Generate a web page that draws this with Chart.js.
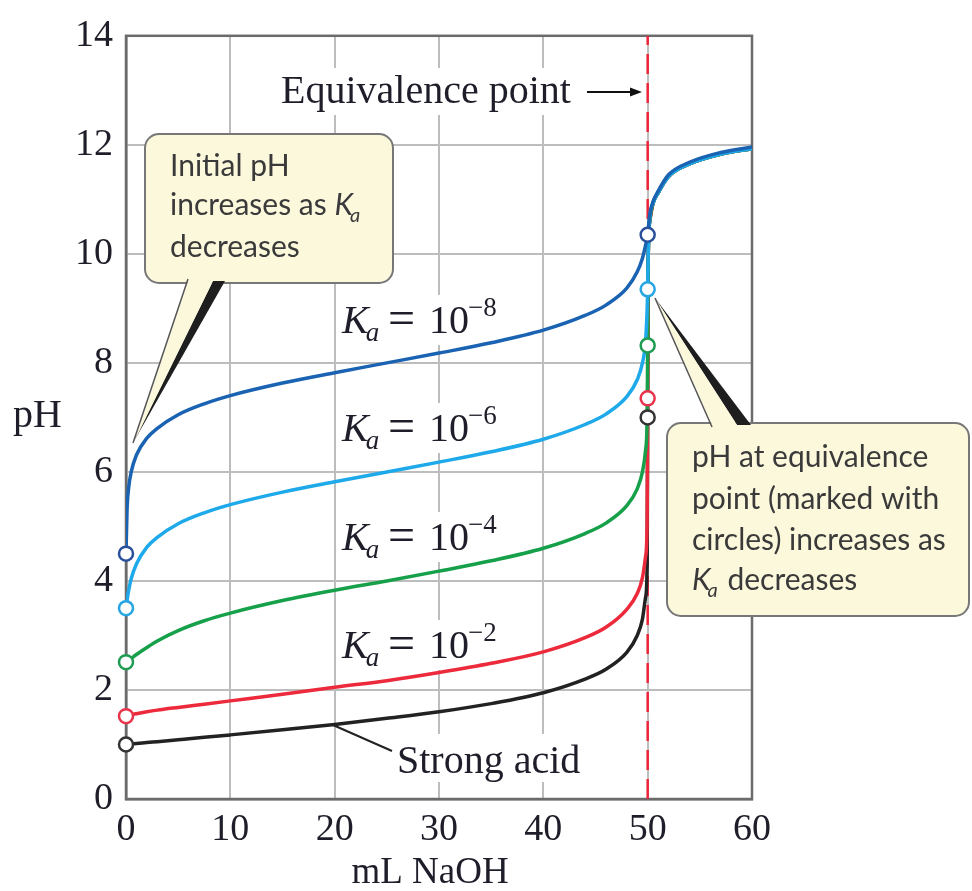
<!DOCTYPE html>
<html lang="en">
<head>
<meta charset="utf-8">
<title>Titration curves</title>
<script src="https://cdn.jsdelivr.net/npm/chart.js@4.4.1/dist/chart.umd.min.js"></script>
<style>
    html, body { margin: 0; padding: 0; background: #fff; }
    #wrap { position: relative; width: 972px; height: 891px; }
</style>
</head>
<body>
<div id="wrap"><canvas id="titration"></canvas></div>
<script>
    // mL of NaOH added
    const mlNaOH = [0, 0.1, 0.25, 0.5, 1, 2, 3, 5, 7.5, 10, 15, 20, 25, 30, 35, 40, 44, 46, 48, 49, 49.5, 49.8, 49.95, 50, 50.05, 50.2, 50.5, 51, 52, 54, 57, 60];

    // pH
    const phKa8 = [4.50, 5.30, 5.70, 6.00, 6.31, 6.62, 6.80, 7.05, 7.25, 7.40, 7.63, 7.82, 8.00, 8.18, 8.37, 8.60, 8.87, 9.06, 9.37, 9.67, 9.92, 10.16, 10.30, 10.35, 10.45, 10.72, 10.95, 11.15, 11.45, 11.68, 11.86, 11.96];
    const phKa6 = [3.50, 3.64, 3.82, 4.04, 4.31, 4.62, 4.80, 5.05, 5.25, 5.40, 5.63, 5.82, 6.00, 6.18, 6.37, 6.60, 6.87, 7.06, 7.38, 7.69, 8.00, 8.40, 8.99, 9.35, 10.00, 10.65, 10.92, 11.12, 11.42, 11.65, 11.83, 11.93];
    const phKa4 = [2.51, 2.52, 2.545, 2.58, 2.65, 2.78, 2.90, 3.09, 3.27, 3.41, 3.64, 3.83, 4.00, 4.18, 4.37, 4.60, 4.87, 5.06, 5.38, 5.69, 6.00, 6.40, 7.00, 8.32, 9.90, 10.60, 10.92, 11.12, 11.42, 11.65, 11.83, 11.93];
    const phKa2 = [1.52, 1.525, 1.532, 1.545, 1.565, 1.60, 1.63, 1.68, 1.74, 1.80, 1.92, 2.05, 2.17, 2.32, 2.49, 2.70, 2.96, 3.15, 3.48, 3.77, 4.06, 4.45, 5.08, 7.35, 9.90, 10.60, 10.92, 11.12, 11.42, 11.65, 11.83, 11.93];
    const phStrong = [1.00, 1.002, 1.004, 1.009, 1.017, 1.035, 1.052, 1.087, 1.131, 1.176, 1.269, 1.368, 1.48, 1.60, 1.75, 1.95, 2.20, 2.38, 2.69, 3.00, 3.30, 3.70, 4.30, 7.00, 9.90, 10.60, 10.92, 11.12, 11.42, 11.65, 11.83, 11.93];

    const kaExponents = [-8, -6, -4, -2];
    const equivalenceML = 50;

    const xTicks = [0, 10, 20, 30, 40, 50, 60];
    const yTicks = [0, 2, 4, 6, 8, 10, 12, 14];

    // top curve first: chart.js paints dataset 0 last
    const curves = [
        { data: phKa8, color: '#1a62b2', ring: '#2a509c' },
        { data: phKa6, color: '#1ea9ea', ring: '#28a6e4' },
        { data: phKa4, color: '#16a04a', ring: '#1f9c52' },
        { data: phKa2, color: '#ec2a3c', ring: '#e8344a' },
        { data: phStrong, color: '#222222', ring: '#333333' }
    ];

    const eqIndex = mlNaOH.indexOf(equivalenceML);
    const serif = '"Liberation Serif", "Times New Roman", serif';
    const sans = 'Lato, "Open Sans", sans-serif';
    const ink = '#1e1e2a';

    const circleSets = curves.map(c => ({
        data: [{ x: 0, y: c.data[0] }, { x: equivalenceML, y: c.data[eqIndex] }],
        showLine: false,
        pointRadius: 7,
        pointBorderWidth: 2.5,
        pointBackgroundColor: '#ffffff',
        pointBorderColor: c.ring,
        clip: false
    }));

    const lineSets = curves.map(c => ({
        data: mlNaOH.map((x, i) => ({ x: x, y: c.data[i] })),
        borderColor: c.color,
        borderWidth: 3.5,
        pointRadius: 0,
        cubicInterpolationMode: 'monotone',
        fill: false
    }));

    const eqLine = {
        data: [{ x: equivalenceML, y: 0 }, { x: equivalenceML, y: 14 }],
        borderColor: '#ee2438',
        borderWidth: 2.5,
        borderDash: [20, 9],
        pointRadius: 0
    };

    function kaText(ctx, x, base, big, small, drop) {
        ctx.font = 'italic ' + big + 'px ' + (big > 32 ? serif : sans);
        ctx.fillText('K', x, base);
        const w = ctx.measureText('K').width;
        ctx.font = 'italic ' + small + 'px ' + (big > 32 ? serif : sans);
        ctx.fillText('a', x + w - 3, base + drop);
        return x + w - 3 + ctx.measureText('a').width;
    }

    function kaLabel(ctx, x, base, exp) {
        ctx.fillStyle = '#ffffff';
        ctx.fillRect(x - 6, base - 38, 174, 50);
        ctx.fillStyle = ink;
        kaText(ctx, x, base, 40, 27, 8);
        ctx.font = '48px ' + serif;
        ctx.fillText('=', x + 46, base + 1);
        ctx.font = '40px ' + serif;
        ctx.fillText('10', x + 87, base);
        ctx.font = '27px ' + serif;
        ctx.fillText('\u2212' + Math.abs(exp), x + 126, base - 17);
    }

    function bubble(ctx, x, y, w, h, r) {
        ctx.beginPath();
        ctx.moveTo(x + r, y);
        ctx.arcTo(x + w, y, x + w, y + h, r);
        ctx.arcTo(x + w, y + h, x, y + h, r);
        ctx.arcTo(x, y + h, x, y, r);
        ctx.arcTo(x, y, x + w, y, r);
        ctx.closePath();
        ctx.fillStyle = '#fcf8dc';
        ctx.fill();
        ctx.strokeStyle = '#777777';
        ctx.lineWidth = 2;
        ctx.stroke();
    }

    function pointer(ctx, a, b, c, tip, fromY) {
        ctx.fillStyle = '#1e1e1e';
        ctx.beginPath();
        ctx.moveTo(b, fromY); ctx.lineTo(c, fromY); ctx.lineTo(tip[0], tip[1]);
        ctx.closePath(); ctx.fill();
        ctx.fillStyle = '#fcf8dc';
        ctx.beginPath();
        ctx.moveTo(a, fromY); ctx.lineTo(b, fromY); ctx.lineTo(tip[0] + 2, tip[1] + (fromY > tip[1] ? 3 : -3));
        ctx.closePath(); ctx.fill();
        ctx.strokeStyle = '#555555';
        ctx.lineWidth = 1.5;
        ctx.beginPath();
        ctx.moveTo(a, fromY + (fromY > tip[1] ? 2 : -2)); ctx.lineTo(tip[0], tip[1]);
        ctx.stroke();
    }

    const notes = {
        id: 'notes',
        beforeDatasetsDraw(chart) {
            const ctx = chart.ctx, area = chart.chartArea;
            ctx.save();
            ctx.textBaseline = 'alphabetic';
            ctx.textAlign = 'left';

            // Equivalence point label + arrow
            ctx.fillStyle = '#ffffff';
            ctx.fillRect(276, 68, 304, 47);
            ctx.fillStyle = ink;
            ctx.font = '40px ' + serif;
            ctx.fillText('Equivalence point', 281, 103);
            ctx.strokeStyle = '#111';
            ctx.lineWidth = 2;
            ctx.beginPath(); ctx.moveTo(587, 92); ctx.lineTo(634, 92); ctx.stroke();
            ctx.fillStyle = '#111';
            ctx.beginPath(); ctx.moveTo(642, 92); ctx.lineTo(630, 87.5); ctx.lineTo(630, 96.5); ctx.closePath(); ctx.fill();

            // Ka labels
            const bases = [333, 441, 550, 658];
            kaExponents.forEach((e, i) => kaLabel(ctx, 342, bases[i], e));

            // Strong acid
            ctx.fillStyle = '#ffffff';
            ctx.fillRect(392, 734, 194, 48);
            ctx.fillStyle = ink;
            ctx.font = '40px ' + serif;
            ctx.fillText('Strong acid', 397, 773);
            ctx.strokeStyle = '#222';
            ctx.lineWidth = 2;
            ctx.beginPath(); ctx.moveTo(333, 725); ctx.lineTo(392, 751); ctx.stroke();

            // frame
            ctx.strokeStyle = '#6b6b6b';
            ctx.lineWidth = 2.5;
            ctx.strokeRect(area.left, area.top, area.right - area.left, area.bottom - area.top);

            // axis titles
            ctx.fillStyle = ink;
            ctx.font = '40px ' + serif;
            ctx.fillText('pH', 13, 427);
            ctx.font = '37px ' + serif;
            ctx.textAlign = 'center';
            ctx.fillText('mL NaOH', 430, 883);
            ctx.restore();
        },
        afterDatasetsDraw(chart) {
            const ctx = chart.ctx;
            ctx.save();
            ctx.textBaseline = 'alphabetic';
            ctx.textAlign = 'left';

            // initial pH callout
            bubble(ctx, 145, 134, 248, 149, 14);
            pointer(ctx, 188, 213, 225, [133, 443], 281);
            ctx.fillStyle = '#3a3a3a';
            ctx.font = '30px ' + sans;
            ctx.fillText('Initial pH', 170, 176);
            ctx.fillText('increases as ', 170, 215);
            const w = ctx.measureText('increases as ').width;
            kaText(ctx, 170 + w, 215, 30, 20, 7);
            ctx.font = '30px ' + sans;
            ctx.fillText('decreases', 170, 257);

            // equivalence pH callout
            bubble(ctx, 667, 423, 302, 193, 14);
            pointer(ctx, 712, 737, 751, [655, 298], 425);
            ctx.fillStyle = '#3a3a3a';
            ctx.font = '30px ' + sans;
            ctx.fillText('pH at equivalence', 692, 467);
            ctx.fillText('point (marked with', 692, 509);
            ctx.fillText('circles) increases as', 692, 550);
            const end = kaText(ctx, 692, 590, 30, 20, 7);
            ctx.font = '30px ' + sans;
            ctx.fillText(' decreases', end + 2, 590);
            ctx.restore();
        }
    };

    const gridStyle = { color: '#bdbdbd', lineWidth: 2, drawTicks: false };
    const tickFont = { family: serif, size: 38 };

    new Chart(document.getElementById('titration'), {
        type: 'line',
        data: { datasets: circleSets.concat(lineSets, [eqLine]) },
        options: {
            responsive: true,
            maintainAspectRatio: false,
            animation: false,
            events: [],
            layout: { padding: { top: 27, right: 220, bottom: 0, left: 0 } },
            plugins: { legend: { display: false }, tooltip: { enabled: false } },
            scales: {
                x: {
                    type: 'linear', min: 0, max: 60,
                    afterBuildTicks: s => { s.ticks = xTicks.map(v => ({ value: v })); },
                    afterFit: s => { s.height = 92; },
                    grid: gridStyle,
                    border: { color: '#6b6b6b', width: 2.5 },
                    ticks: { font: tickFont, color: ink, padding: 8, maxRotation: 0, autoSkip: false }
                },
                y: {
                    type: 'linear', min: 0, max: 14,
                    afterBuildTicks: s => { s.ticks = yTicks.map(v => ({ value: v })); },
                    afterFit: s => { s.width = 126; },
                    grid: gridStyle,
                    border: { color: '#6b6b6b', width: 2.5 },
                    ticks: { font: tickFont, color: ink, padding: 13, autoSkip: false }
                }
            }
        },
        plugins: [notes]
    });
</script>
</body>
</html>
